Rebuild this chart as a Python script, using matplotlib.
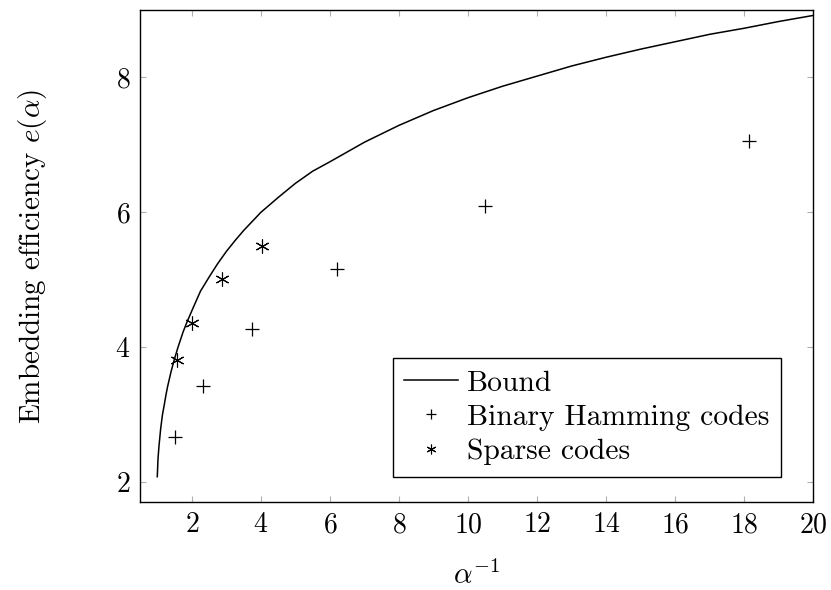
import matplotlib
matplotlib.use("Agg")
import matplotlib.pyplot as plt

plt.rcParams['font.family'] = 'serif'
plt.rcParams['font.serif'] = ['cmr10', 'DejaVu Serif']
plt.rcParams['mathtext.fontset'] = 'cm'
plt.rcParams['axes.formatter.use_mathtext'] = True

# bound curve
bound_x = [1.0, 1.02, 1.05, 1.1, 1.15, 1.2, 1.25, 1.3, 1.35, 1.4, 1.5, 1.6, 1.75, 1.85,
           2.0, 2.25, 2.5, 2.75, 3.0, 3.25, 3.5, 4.0, 4.5, 5.0, 5.5, 6.0, 7.0, 8.0,
           9.0, 10.0, 11.0, 12.0, 13.0, 14.0, 15.0, 16.0, 17.0, 18.0, 19.0, 20.0]
bound_y = [2.08, 2.34, 2.54, 2.80, 3.00, 3.14, 3.29, 3.42, 3.53, 3.64, 3.83, 4.00, 4.23, 4.36,
           4.54, 4.83, 5.04, 5.24, 5.42, 5.58, 5.73, 6.00, 6.22, 6.43, 6.61, 6.75, 7.04, 7.29,
           7.51, 7.70, 7.87, 8.02, 8.17, 8.30, 8.42, 8.53, 8.64, 8.73, 8.83, 8.92]

# binary Hamming codes
ham_x = [1.5, 2.33, 3.75, 6.2, 10.5, 18.14]
ham_y = [2.67, 3.43, 4.27, 5.16, 6.10, 7.06]

# sparse codes
sp_x = [1.58, 2.0, 2.87, 4.02]
sp_y = [3.81, 4.36, 5.01, 5.50]

fig = plt.figure(figsize=(8.31, 5.90), dpi=100)
ax = fig.add_axes([0.1685, 0.1486, 0.8102, 0.8344])

ax.plot(bound_x, bound_y, color='black', lw=1.1, label='Bound')
ax.plot(ham_x, ham_y, ls='none', marker='+', ms=10, mew=0.9, color='black',
        label='Binary Hamming codes')
ax.plot(sp_x, sp_y, ls='none', marker=(6, 2, 0), ms=10, mew=0.8, color='black',
        label='Sparse codes')

ax.set_xlim(0.5, 20)
ax.set_ylim(1.7, 9.0)
ax.set_xticks([2, 4, 6, 8, 10, 12, 14, 16, 18, 20])
ax.set_yticks([2, 4, 6, 8])
ax.tick_params(direction='in', length=4.5, width=0.8, color='#b0b0b0',
               top=True, right=True, labelsize=20, pad=7)
for s in ax.spines.values():
    s.set_linewidth(1.0)

ax.set_xlabel(r'$\alpha^{-1}$', fontsize=21, labelpad=16)
ax.set_ylabel(r'Embedding efficiency $e(\alpha)$', fontsize=21, labelpad=48)

leg = ax.legend(loc='lower right', bbox_to_anchor=(0.9516, 0.052), borderaxespad=0,
                fontsize=21.3, fancybox=False, edgecolor='black', framealpha=1,
                handlelength=1.8, handletextpad=0.3, labelspacing=0.25,
                borderpad=0.4, markerscale=0.7)
leg.get_frame().set_linewidth(1.0)

fig.savefig('out.png', dpi=100)
